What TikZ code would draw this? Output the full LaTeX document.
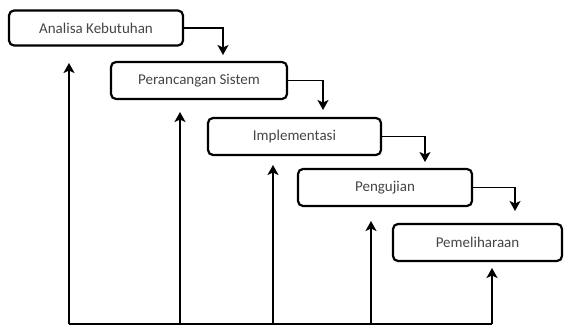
\documentclass[tikz,border=0pt]{standalone}
\usepackage{fontspec}
\setmainfont{Carlito}
\usetikzlibrary{arrows.meta}
\definecolor{txt}{HTML}{454545}
\tikzset{
  stage/.style={draw=black, line width=2.2pt, rounded corners=5pt, inner sep=0pt,
    font=\fontsize{15}{17}\selectfont, text=txt},
  flow/.style={line width=1.8pt, -{Stealth[length=10pt,width=11pt,inset=2.5pt]}},
  back/.style={line width=2.2pt, -{Stealth[length=10pt,width=11pt,inset=2.5pt]}},
}
\begin{document}
\begin{tikzpicture}[x=1pt,y=-1pt]
\useasboundingbox (0,0) rectangle (564,329);
\node[stage, minimum width=174pt, minimum height=35pt] (b1) at (96,28) {Analisa Kebutuhan};
\node[stage, minimum width=176pt, minimum height=37pt] (b2) at (199,80.5) {Perancangan Sistem};
\node[stage, minimum width=173pt, minimum height=37pt] (b3) at (294.5,136.5) {Implementasi};
\node[stage, minimum width=174pt, minimum height=37pt] (b4) at (385,187.5) {Pengujian};
\node[stage, minimum width=169pt, minimum height=37pt] (b5) at (477.5,242.5) {Pemeliharaan};
% forward arrows
\coordinate (t2) at (223,55);
\coordinate (t3) at (323,110);
\coordinate (t4) at (425,162);
\coordinate (t5) at (515,211);
\draw[flow] (b1.east) -| (t2);
\draw[flow] (b2.east) -| (t3);
\draw[flow] (b3.east) -| (t4);
\draw[flow] (b4.east) -| (t5);
% feedback
\coordinate (f1) at (69,324);
\coordinate (f2) at (180,324);
\coordinate (f3) at (273,324);
\coordinate (f4) at (371,324);
\coordinate (f5) at (492,324);
\coordinate (u1) at (69,63);
\coordinate (u2) at (180,112);
\coordinate (u3) at (273,165);
\coordinate (u4) at (371,221);
\coordinate (u5) at (492,268);
\draw[line width=2.2pt] (f1) -- (f5);
\draw[back] (f1) -- (u1);
\draw[back] (f2) -- (u2);
\draw[back] (f3) -- (u3);
\draw[back] (f4) -- (u4);
\draw[back] (f5) -- (u5);
\end{tikzpicture}
\end{document}
